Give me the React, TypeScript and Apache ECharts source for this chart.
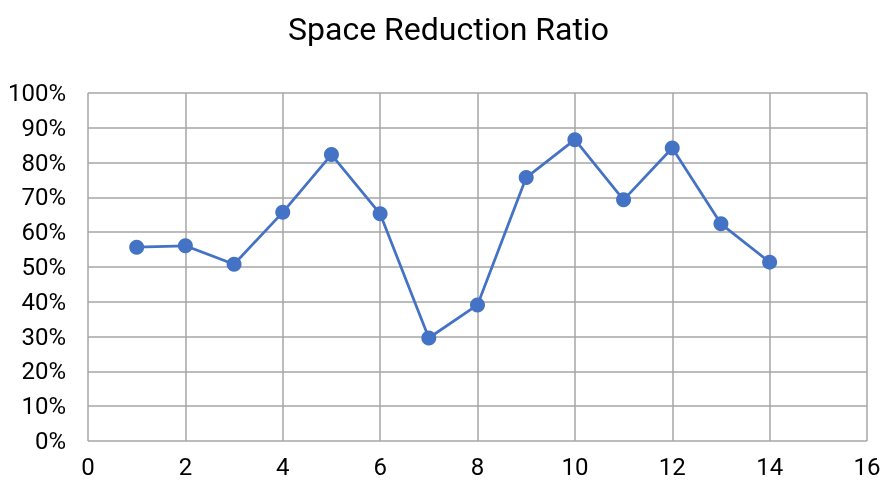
import React, { useEffect, useRef } from "react";
import * as echarts from "echarts";

const xValues = [1, 2, 3, 4, 5, 6, 7, 8, 9, 10, 11, 12, 13, 14];
const ratios = [0.557, 0.561, 0.508, 0.657, 0.823, 0.653, 0.296, 0.391, 0.757, 0.866, 0.693, 0.842, 0.624, 0.514];
const titleText = "Space Reduction Ratio";

export default function App() {
  const ref = useRef<HTMLDivElement>(null);
  useEffect(() => {
    if (!ref.current) return;
    const chart = echarts.init(ref.current, undefined, { renderer: "svg" });
    chart.setOption({
      animation: false,
      title: {
        text: titleText,
        left: 283,
        top: 8,
        textStyle: { fontFamily: "Roboto", fontSize: 32, fontWeight: "normal", color: "#000" },
      },
      grid: { left: 88, right: 17, top: 93, bottom: 40, containLabel: false },
      xAxis: {
        type: "value",
        min: 0,
        max: 16,
        interval: 2,
        axisLine: { show: false },
        axisTick: { show: false },
        axisLabel: { fontFamily: "Roboto", fontSize: 24, color: "#000", margin: 14 },
        splitLine: { show: true, lineStyle: { color: "#A6A6A6", width: 1.5 } },
      },
      yAxis: {
        type: "value",
        min: 0,
        max: 1,
        interval: 0.1,
        axisLine: { show: false },
        axisTick: { show: false },
        axisLabel: {
          fontFamily: "Roboto",
          fontSize: 24,
          color: "#000",
          margin: 22,
          formatter: (v: number) => Math.round(v * 100) + "%",
        },
        splitLine: { show: true, lineStyle: { color: "#A6A6A6", width: 1.5 } },
      },
      series: [
        {
          type: "line",
          data: xValues.map((x, i) => [x, ratios[i]]),
          symbol: "circle",
          symbolSize: 15,
          lineStyle: { color: "#4472C4", width: 2.75 },
          itemStyle: { color: "#4472C4" },
        },
      ],
    });
    return () => chart.dispose();
  }, []);
  return <div ref={ref} style={{ position: "fixed", left: 0, top: 0, width: 884, height: 481 }} />;
}
